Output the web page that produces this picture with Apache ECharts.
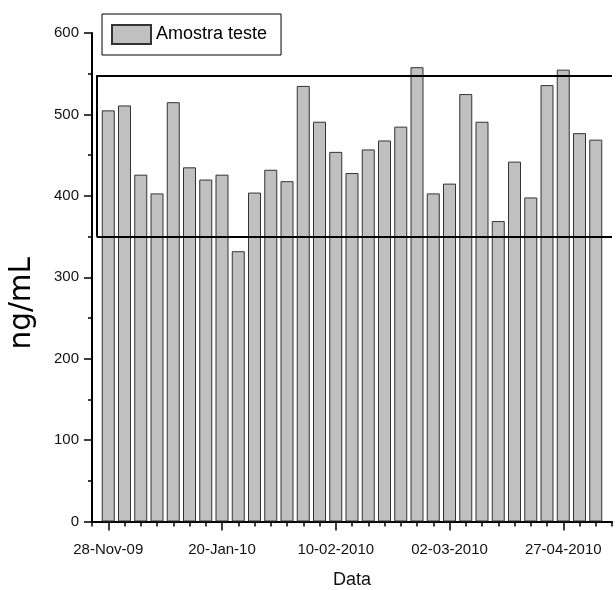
<!DOCTYPE html>
<html>
<head>
<meta charset="utf-8">
<script src="https://cdn.jsdelivr.net/npm/echarts@6/dist/echarts.min.js"></script>
<style>
html,body{margin:0;padding:0;background:#fff;}
#chart{width:616px;height:590px;}
</style>
</head>
<body>
<div id="chart"></div>
<script>
// Sample values (ng/mL), one per sampling date
const values = [505,511,426,403,515,435,420,426,332,404,432,418,535,491,454,428,457,468,485,558,403,415,525,491,369,442,398,536,555,477,469];
// Labelled dates and their sample positions
const tickLabels = ['28-Nov-09','20-Jan-10','10-02-2010','02-03-2010','27-04-2010'];
const tickPositions = [1,8,15,22,29];
// Acceptance limits (ng/mL)
const limits = [350, 548];
const seriesName = 'Amostra teste';

const data = values.map((v, i) => [i + 1, v]);
const xMax = values.length + 1;
const font = 'Liberation Sans, Arial, sans-serif';

const chart = echarts.init(document.getElementById('chart'));
chart.setOption({
  animation: false,
  backgroundColor: '#fff',
  grid: {left: 92, right: 4, top: 33, bottom: 68.5, containLabel: false, outerBoundsMode: 'none'},
  legend: {
    left: 102, top: 14,
    orient: 'horizontal',
    backgroundColor: '#fff',
    borderColor: '#000', borderWidth: 1,
    padding: [10, 14, 10, 9],
    itemWidth: 39, itemHeight: 19, itemGap: 6,
    icon: 'rect',
    textStyle: {fontFamily: font, fontSize: 18, color: '#000'},
    data: [seriesName]
  },
  xAxis: [{
    type: 'value', min: 0, max: xMax, interval: 1,
    axisLine: {show: true, lineStyle: {color: '#000', width: 2}},
    axisTick: {show: true, length: 5, lineStyle: {color: '#000', width: 1.5}},
    axisLabel: {show: false},
    splitLine: {show: false},
    name: 'Data', nameLocation: 'middle', nameGap: 50,
    nameTextStyle: {fontFamily: font, fontSize: 18, color: '#111'}
  }, {
    type: 'value', min: 0, max: xMax, position: 'bottom',
    axisLine: {show: false},
    axisTick: {show: true, length: 9, customValues: tickPositions, lineStyle: {color: '#000', width: 1.5}},
    axisLabel: {
      show: true, customValues: tickPositions, margin: 21,
      fontFamily: font, fontSize: 15, color: '#111',
      formatter: v => tickLabels[tickPositions.indexOf(v)] || ''
    },
    splitLine: {show: false}
  }],
  yAxis: {
    type: 'value', min: 0, max: 600, interval: 100,
    axisLine: {show: true, lineStyle: {color: '#000', width: 2}},
    axisTick: {show: true, length: 8, lineStyle: {color: '#000', width: 1.5}},
    minorTick: {show: true, splitNumber: 2, length: 4, lineStyle: {color: '#000', width: 1.5}},
    splitLine: {show: false},
    axisLabel: {margin: 13, fontFamily: font, fontSize: 15, color: '#111'},
    name: 'ng/mL', nameLocation: 'middle', nameGap: 55,
    nameTextStyle: {fontFamily: 'DejaVu Sans, sans-serif', fontSize: 29.5, color: '#000', padding: [0, 52, 0, 0]}
  },
  series: [{
    type: 'bar',
    name: seriesName,
    xAxisIndex: 0,
    data: data,
    barWidth: 13,
    itemStyle: {color: '#c0c0c0', borderColor: '#333', borderWidth: 1},
    markLine: {
      silent: true,
      symbol: 'none',
      label: {show: false},
      lineStyle: {color: '#000', width: 2, type: 'solid'},
      data: [
        [{coord: [0.28, limits[0]]}, {coord: [xMax, limits[0]]}],
        [{coord: [0.28, limits[1]]}, {coord: [xMax, limits[1]]}],
        [{coord: [0.28, limits[0]]}, {coord: [0.28, limits[1]]}]
      ]
    }
  }]
});
</script>
</body>
</html>
